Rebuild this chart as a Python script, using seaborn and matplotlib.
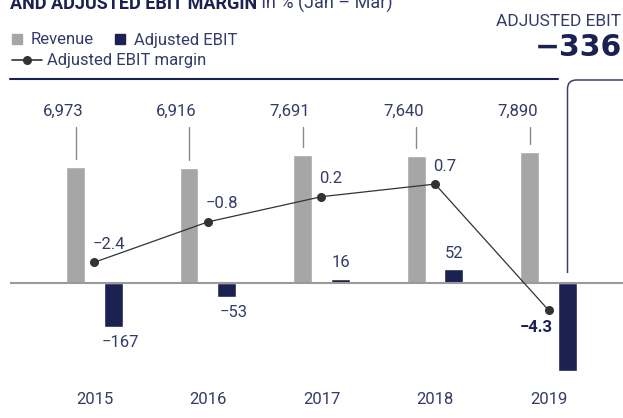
import numpy as np
import pandas as pd
import seaborn as sns
import matplotlib.pyplot as plt
import matplotlib.transforms as mtransforms
from matplotlib.lines import Line2D
from matplotlib.path import Path
from matplotlib.patches import PathPatch

# data (Jan - Mar)
years = [2015, 2016, 2017, 2018, 2019]
revenue = [6973, 6916, 7691, 7640, 7890]
adj_ebit = [-167, -53, 16, 52, -336]
ebit_margin = [-2.4, -0.8, 0.2, 0.7, -4.3]
revenue_labels = ["6,973", "6,916", "7,691", "7,640", "7,890"]
ebit_labels = ["\u2212167", "\u221253", "16", "52", None]  # 2019 is the callout
margin_labels = ["\u22122.4", "\u22120.8", "0.2", "0.7", "\u22124.3"]
callout_title = "ADJUSTED EBIT"
callout_value = "\u2212336"

GREY = "#a6a6a6"
NAVY = "#1b2150"
TXT = "#343b68"
LINE = "#333333"
W = "normal"  # text weight for the labels

sns.set_theme(style="white")
plt.rcParams['font.family'] = ['Roboto', 'DejaVu Sans']

df = pd.DataFrame({"year": years, "revenue": revenue, "ebit": adj_ebit, "margin": ebit_margin})

fig = plt.figure(figsize=(6.23, 4.18), dpi=100)
ax = fig.add_axes([10 / 623, 33 / 418, 613 / 623, 300 / 418])
ax2 = ax.twinx()
ax3 = ax.twinx()

off = 0.167
bw = 0.167

# bars: revenue (left axis scale), adjusted EBIT (own scale)
sns.barplot(x=df.year - off, y=df.revenue, native_scale=True, width=bw, color=GREY,
            saturation=1, errorbar=None, ax=ax)
sns.barplot(x=df.year + off, y=df.ebit, native_scale=True, width=bw, color=NAVY,
            saturation=1, errorbar=None, ax=ax2)
sns.lineplot(x=df.year, y=df.margin, ax=ax3, color=LINE, linewidth=0.9, marker="o",
             markersize=6.5, markeredgewidth=0, markerfacecolor=LINE)

# scales, all sharing the same zero line for the bars
ax.set_ylim(-6133, 11906)
ax2.set_ylim(-388, 753)
ax3.set_ylim(-7.27, 4.63)
ax.set_xlim(2014.256, 2019.656)

for a in (ax, ax2, ax3):
    a.set_yticks([])
    a.set_xlabel("")
    a.set_ylabel("")
    for s in a.spines.values():
        s.set_visible(False)

ax.set_xticks(years)
ax.set_xticklabels([str(y) for y in years])
ax.tick_params(axis="x", length=0, pad=5, labelsize=12, labelcolor=TXT)
for lbl in ax.get_xticklabels():
    lbl.set_fontweight(W)

ax2.axhline(0, color="#9a9a9a", lw=1.5, zorder=5)

# revenue labels with small connector lines
for y, v, lbl in zip(years, revenue, revenue_labels):
    ax.plot([y - off, y - off], [v + 481, 9381], color="#8a8a8a", lw=1.0)
    ax.text(y - off + 0.07, 10343, lbl, ha="right", va="center", fontsize=12,
            color=TXT, fontweight=W)

# adjusted EBIT labels
for y, v, lbl in zip(years, adj_ebit, ebit_labels):
    if lbl is None:
        continue
    dy = 11.5 if v > 0 else -11.5
    dx = 0 if v > 0 else 5
    ax2.annotate(lbl, xy=(y + off, v), xytext=(dx, dy), textcoords="offset points",
                 ha="center", va="center", fontsize=12, color=TXT, fontweight=W)

# margin labels
for i, (y, m, lbl) in enumerate(zip(years, ebit_margin, margin_labels)):
    if i == len(years) - 1:
        ax3.annotate(lbl, xy=(y, m), xytext=(2.7, -12.5), textcoords="offset points",
                     ha="right", va="center", fontsize=12, color=NAVY, fontweight="bold")
    else:
        ax3.annotate(lbl, xy=(y, m), xytext=(-1.5, 13), textcoords="offset points",
                     ha="left", va="center", fontsize=12, color=TXT, fontweight=W)

# callout connector from the 2019 EBIT bar up to the headline value
trans = mtransforms.blended_transform_factory(ax2.transData, ax2.transAxes)
xb = years[-1] + off
rx, ry = 0.079, 0.03
ytop = 1.0167
verts = [(xb, 0.3733), (xb, ytop - ry), (xb, ytop), (xb + rx, ytop), (2020.0, ytop)]
codes = [Path.MOVETO, Path.LINETO, Path.CURVE3, Path.CURVE3, Path.LINETO]
ax2.add_patch(PathPatch(Path(verts, codes), transform=trans, fill=False,
                        edgecolor="#3a4068", lw=1.1, clip_on=False))

# top rule
fig.add_artist(Line2D([10 / 623, 558 / 623], [(418 - 79) / 418] * 2,
                      transform=fig.transFigure, color=NAVY, lw=1.5))

# title (cut at the top in the source)
t1 = fig.text(10 / 623, (418 - 9) / 418, "AND ADJUSTED EBIT MARGIN", fontsize=13,
              fontweight="bold", color=NAVY, va="baseline", ha="left")
ax.annotate(" in % (Jan \u2013 Mar)", xy=(1, 0), xycoords=t1, va="bottom", ha="left",
            fontsize=13, color=TXT, fontweight=W, annotation_clip=False)

# headline callout
fig.text(621.5 / 623, (418 - 21.5) / 418, callout_title, ha="right", va="center",
         fontsize=12.5, color=TXT, fontweight=W)
fig.text(622 / 623, (418 - 48) / 418, callout_value, ha="right", va="center",
         fontsize=21.5, color=NAVY, fontweight="bold", family="DejaVu Sans")

# legends
h_bars = [Line2D([], [], marker="s", ls="none", color=GREY, markersize=7.5),
          Line2D([], [], marker="s", ls="none", color=NAVY, markersize=7.5)]
leg1 = fig.legend(h_bars, ["Revenue", "Adjusted EBIT"], loc="center left",
                  bbox_to_anchor=(10.5 / 623, (418 - 40) / 418), ncol=2, frameon=False,
                  borderpad=0, borderaxespad=0, handlelength=0.8, handletextpad=0.4,
                  columnspacing=1.2, fontsize=12, labelcolor=TXT)
h_line = [Line2D([], [], color=LINE, lw=1.2, marker="o", markersize=6.5, markeredgewidth=0)]
leg2 = fig.legend(h_line, ["Adjusted EBIT margin"], loc="center left",
                  bbox_to_anchor=(12 / 623, (418 - 61) / 418), frameon=False,
                  borderpad=0, borderaxespad=0, handlelength=1.8, handletextpad=0.3,
                  fontsize=12, labelcolor=TXT)
for leg in (leg1, leg2):
    for t in leg.get_texts():
        t.set_fontweight(W)

fig.savefig("out.png", dpi=100)
